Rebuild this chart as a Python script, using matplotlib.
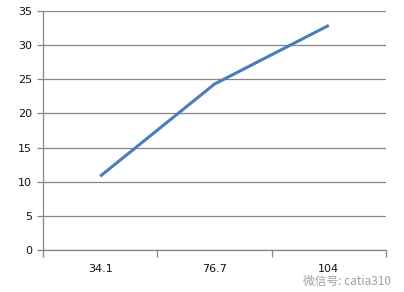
import numpy as np
import matplotlib.pyplot as plt

# categories on the x axis and the plotted values
categories = ["34.1", "76.7", "104"]
values = [10.8, 24.3, 32.9]
y_ticks = [0, 5, 10, 15, 20, 25, 30, 35]

fig = plt.figure(figsize=(4.04, 2.92), dpi=100)
ax = fig.add_axes([0.1064, 0.1438, 0.849, 0.8185])

x = np.arange(len(categories))
ax.plot(x, values, color="#4a7ebb", linewidth=2.2, solid_capstyle="butt", zorder=3)

ax.set_xlim(-0.5, len(categories) - 0.5)
ax.set_ylim(0, 35)
ax.set_yticks(y_ticks)
ax.yaxis.grid(True, color="#868686", linewidth=0.9)
ax.set_axisbelow(True)

# category labels centered, tick marks between categories
ax.set_xticks(x)
ax.set_xticklabels(categories)
ax.set_xticks(np.arange(len(categories) + 1) - 0.5, minor=True)
ax.tick_params(axis="x", which="major", length=0, pad=10)
ax.tick_params(axis="x", which="minor", length=5, color="#868686", width=0.9)
ax.tick_params(axis="y", length=4, color="#868686", width=0.9, pad=4)
ax.tick_params(labelsize=8, labelcolor="#111111")

for side in ["top", "right"]:
    ax.spines[side].set_visible(False)
for side in ["left", "bottom"]:
    ax.spines[side].set_color("#868686")
    ax.spines[side].set_linewidth(0.9)

# watermark
fig.text(0.968, 0.035, "微信号: catia310", ha="right", va="center", fontsize=8.5,
         color="#a0a0a0", family=["Noto Sans CJK SC", "DejaVu Sans"])

fig.savefig("out.png", dpi=100)
